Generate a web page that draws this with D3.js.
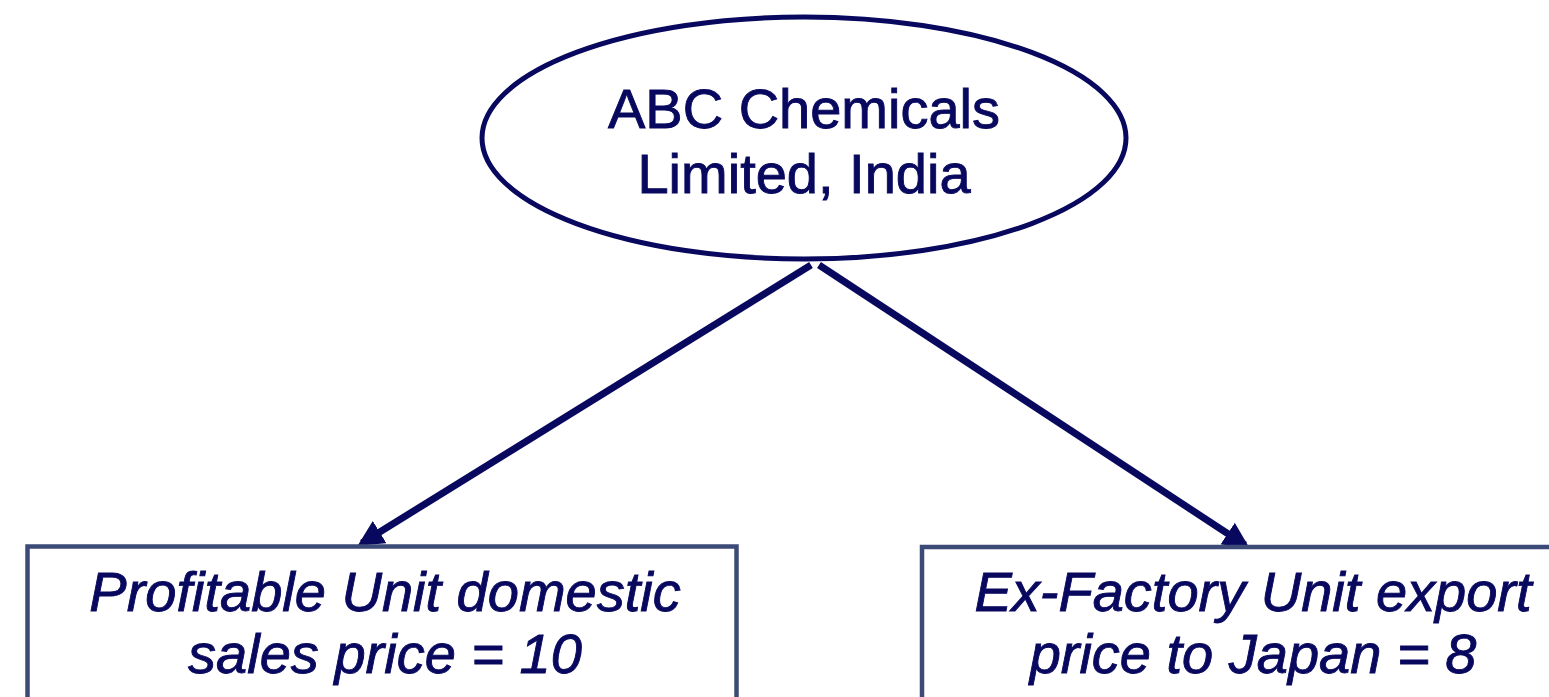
<!DOCTYPE html>
<html>
<head>
<meta charset="utf-8">
<script src="https://cdn.jsdelivr.net/npm/d3@7"></script>
<style>
  body { margin: 0; background: #fff; overflow: hidden; }
  svg { display: block; }
</style>
</head>
<body>
<div id="chart"></div>
<script>
// Diagram content
const rootLabel = ["ABC Chemicals", "Limited, India"];
const childLabels = [
    ["Profitable Unit domestic", "sales price = 10"],
    ["Ex-Factory Unit export", "price to Japan = 8"]
];

const width = 1549, height = 697;
const navy = "#08085e";
const boxStroke = "#3c4a78";

const svg = d3.select("#chart").append("svg")
    .attr("width", width)
    .attr("height", height);

// Arrowhead marker
svg.append("defs").append("marker")
    .attr("id", "arrow")
    .attr("viewBox", "0 0 10 10")
    .attr("refX", 8)
    .attr("refY", 5)
    .attr("markerWidth", 3.7)
    .attr("markerHeight", 3.7)
    .attr("markerUnits", "strokeWidth")
    .attr("orient", "auto")
    .append("path")
    .attr("d", "M0,0 L10,5 L0,10 Z")
    .attr("fill", navy);

// Root ellipse
const root = { cx: 804, cy: 138, rx: 322, ry: 121 };
svg.append("ellipse")
    .attr("cx", root.cx)
    .attr("cy", root.cy)
    .attr("rx", root.rx)
    .attr("ry", root.ry)
    .attr("fill", "#fff")
    .attr("stroke", navy)
    .attr("stroke-width", 5);

svg.append("text")
    .attr("text-anchor", "middle")
    .attr("fill", navy)
    .attr("stroke", navy)
    .attr("stroke-width", 0.9)
    .style("font-family", "Liberation Sans, Arial, sans-serif")
    .style("font-size", "56px")
    .selectAll("tspan")
    .data(rootLabel)
    .enter().append("tspan")
    .attr("x", root.cx)
    .attr("y", (d, i) => 128 + i * 65)
    .text(d => d);

// Child boxes
const boxes = [
    { x: 27.5, y: 546.5, w: 709, h: 200, cx: 385, start: [811, 265], end: [362, 543] },
    { x: 922, y: 547, w: 680, h: 200, cx: 1253, start: [819, 265], end: [1245, 545] }
];

// Arrows
svg.selectAll(".edge")
    .data(boxes)
    .enter().append("line")
    .attr("class", "edge")
    .attr("x1", d => d.start[0])
    .attr("y1", d => d.start[1])
    .attr("x2", d => d.end[0])
    .attr("y2", d => d.end[1])
    .attr("stroke", navy)
    .attr("stroke-width", 7)
    .attr("marker-end", "url(#arrow)");

svg.selectAll(".box")
    .data(boxes)
    .enter().append("rect")
    .attr("class", "box")
    .attr("x", d => d.x)
    .attr("y", d => d.y)
    .attr("width", d => d.w)
    .attr("height", d => d.h)
    .attr("fill", "#fff")
    .attr("stroke", boxStroke)
    .attr("stroke-width", 4.5);

boxes.forEach((b, k) => {
    svg.append("text")
        .attr("text-anchor", "middle")
        .attr("fill", navy)
        .attr("stroke", navy)
        .attr("stroke-width", 0.9)
        .style("font-family", "Liberation Sans, Arial, sans-serif")
        .style("font-style", "italic")
        .style("font-size", "56px")
        .selectAll("tspan")
        .data(childLabels[k])
        .enter().append("tspan")
        .attr("x", b.cx)
        .attr("y", (d, i) => 611 + i * 62)
        .text(d => d);
});
</script>
</body>
</html>
